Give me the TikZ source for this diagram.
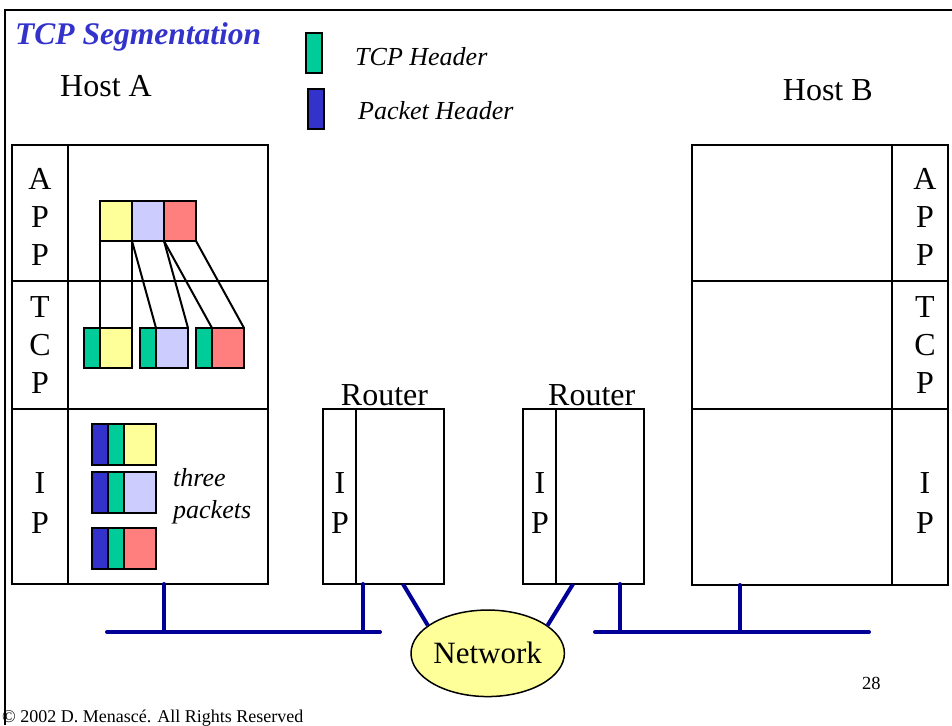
\documentclass[tikz,border=0pt]{standalone}
\usepackage{fontspec}
\setmainfont{Liberation Serif}
\usetikzlibrary{shapes.geometric,calc}

\definecolor{hdrgreen}{HTML}{00CC99}
\definecolor{hdrblue}{HTML}{3333CC}
\definecolor{dataY}{HTML}{FFFF99}
\definecolor{dataL}{HTML}{CCCCFF}
\definecolor{dataR}{HTML}{FF7F7F}
\definecolor{busblue}{HTML}{000099}
\definecolor{netfill}{HTML}{FFFF99}

\newcommand\pxfont[1]{\fontsize{#1}{#1}\selectfont}

\begin{document}
\begin{tikzpicture}[x=1pt,y=-1pt,
  cell/.style={draw, line width=2pt, inner sep=0pt, outer sep=0pt, anchor=north west},
  sz/.style 2 args={minimum width=#1pt, minimum height=#2pt},
  lyr/.style={font=\pxfont{32}, anchor=base, inner sep=0pt},
  txt/.style={anchor=base west, inner sep=0pt},
  seg/.style={line width=2pt},
  bus/.style={draw=busblue, line width=4pt, line cap=round},
  frameline/.style={line width=2pt}]

\useasboundingbox (0,0) rectangle (952,725);

% slide frame
\coordinate (fTL) at (5,10);
\coordinate (fTR) at (952,10);
\coordinate (fBL) at (5,725);
\draw[frameline] (fBL) -- (fTL) -- (fTR);

% titles and legend
\node[txt, font=\pxfont{31.5}\bfseries\itshape, text=hdrblue] (title) at (15,44.3) {TCP Segmentation};
\node[txt, font=\pxfont{32}] (hostAlbl) at (60,96.7) {Host A};
\node[txt, font=\pxfont{32}] (hostBlbl) at (782.7,100) {Host B};
\node[cell, sz={16}{40}, fill=hdrgreen] (legTcp) at (306,33) {};
\node[cell, sz={16}{40}, fill=hdrblue] (legPkt) at (308,89) {};
\node[txt, font=\pxfont{26}\itshape] (legTcpTxt) at (355,65) {TCP Header};
\node[txt, font=\pxfont{26}\itshape] (legPktTxt) at (358,119) {Packet Header};

% Host A protocol stack
\node[cell, sz={56}{136}] (hAappL) at (12,145) {};
\node[cell, sz={200}{136}] (hAappB) at (68,145) {};
\node[cell, sz={56}{128}] (hAtcpL) at (12,281) {};
\node[cell, sz={200}{128}] (hAtcpB) at (68,281) {};
\node[cell, sz={56}{175}] (hAipL) at (12,409) {};
\node[cell, sz={200}{175}] (hAipB) at (68,409) {};

% Host B protocol stack
\node[cell, sz={200}{136}] (hBappB) at (692,145) {};
\node[cell, sz={56}{136}] (hBappL) at (892,145) {};
\node[cell, sz={200}{128}] (hBtcpB) at (692,281) {};
\node[cell, sz={56}{128}] (hBtcpL) at (892,281) {};
\node[cell, sz={200}{176}] (hBipB) at (692,409) {};
\node[cell, sz={56}{176}] (hBipL) at (892,409) {};

% layer letters
\foreach \t/\y [count=\i] in {A/189,P/227,P/265} {
  \node[lyr] (hAapp\i) at (40,\y) {\t};
  \node[lyr] (hBapp\i) at (925,\y) {\t};
}
\foreach \t/\y [count=\i] in {T/317,C/355,P/393} {
  \node[lyr] (hAtcp\i) at (40,\y) {\t};
  \node[lyr] (hBtcp\i) at (925,\y) {\t};
}
\foreach \t/\y [count=\i] in {I/493,P/533} {
  \node[lyr] (hAip\i) at (40,\y) {\t};
  \node[lyr] (hBip\i) at (925,\y) {\t};
  \node[lyr] (rAip\i) at (340,\y) {\t};
  \node[lyr] (rBip\i) at (540,\y) {\t};
}

% application data
\node[cell, sz={32}{40}, fill=dataY] (a1) at (100,201) {};
\node[cell, sz={32}{40}, fill=dataL] (a2) at (132,201) {};
\node[cell, sz={32}{40}, fill=dataR] (a3) at (164,201) {};

% TCP segments
\node[cell, sz={16}{40}, fill=hdrgreen] (s1h) at (84,328) {};
\node[cell, sz={32}{40}, fill=dataY] (s1d) at (100,328) {};
\node[cell, sz={16}{40}, fill=hdrgreen] (s2h) at (140,328) {};
\node[cell, sz={32}{40}, fill=dataL] (s2d) at (156,328) {};
\node[cell, sz={16}{40}, fill=hdrgreen] (s3h) at (196,328) {};
\node[cell, sz={32}{40}, fill=dataR] (s3d) at (212,328) {};

% segmentation lines
\draw[seg] (a1.south west) -- (s1d.north west);
\draw[seg] (a1.south east) -- (s1d.north east);
\draw[seg] (a2.south west) -- (s2d.north west);
\draw[seg] (a2.south east) -- (s2d.north east);
\draw[seg] (a3.south west) -- (s3d.north west);
\draw[seg] (a3.south east) -- (s3d.north east);

% IP packets
\foreach \y/\c [count=\i] in {424/dataY,472/dataL,528/dataR} {
  \node[cell, sz={16}{41}, fill=hdrblue] (p\i a) at (92,\y) {};
  \node[cell, sz={16}{41}, fill=hdrgreen] (p\i b) at (108,\y) {};
  \node[cell, sz={32}{41}, fill=\c] (p\i c) at (124,\y) {};
}
\node[txt, font=\pxfont{26}\itshape] (three) at (173,486.7) {three};
\node[txt, font=\pxfont{26}\itshape] (packets) at (173,518) {packets};

% routers
\node[cell, sz={33}{175}] (r1L) at (323,409) {};
\node[cell, sz={88}{175}] (r1B) at (356,409) {};
\node[cell, sz={33}{175}] (r2L) at (523,409) {};
\node[cell, sz={88}{175}] (r2B) at (556,409) {};
\node[lyr] (r1lbl) at (384.5,405) {Router};
\node[lyr] (r2lbl) at (591.7,405) {Router};

% network cloud
\node[ellipse, draw, line width=1.5pt, fill=netfill, minimum width=153pt,
      minimum height=86.5pt, inner sep=0pt, font=\pxfont{31}] (net) at (487.7,653.3) {Network};

% LAN buses
\coordinate (busL1) at (107,632);
\coordinate (busL2) at (380,632);
\coordinate (dropA) at (164,632);
\coordinate (dropR1) at (363,632);
\coordinate (busR1) at (595,632);
\coordinate (busR2) at (869,632);
\coordinate (dropR2) at (620,632);
\coordinate (dropB) at (740,632);

\draw[bus] (busL1) -- (busL2);
\draw[bus] (busR1) -- (busR2);
\draw[bus] (dropA |- hAipB.south) -- (dropA);
\draw[bus] (dropR1 |- r1B.south) -- (dropR1);
\draw[bus] (dropR2 |- r2B.south) -- (dropR2);
\draw[bus] (dropB |- hBipB.south) -- (dropB);
\draw[draw=busblue, line width=4pt] ($(r1B.south)+(3,0)$) -- (net.155);
\draw[draw=busblue, line width=4pt] ($(r2B.south)+(-27,0)$) -- (net.25);

% footer
\node[txt, font=\pxfont{18.5}] (pageno) at (862,689) {28};
\node[txt, font=\pxfont{18}] (copy) at (2,722) {© 2002 D. Menascé. All Rights Reserved};

\end{tikzpicture}
\end{document}
